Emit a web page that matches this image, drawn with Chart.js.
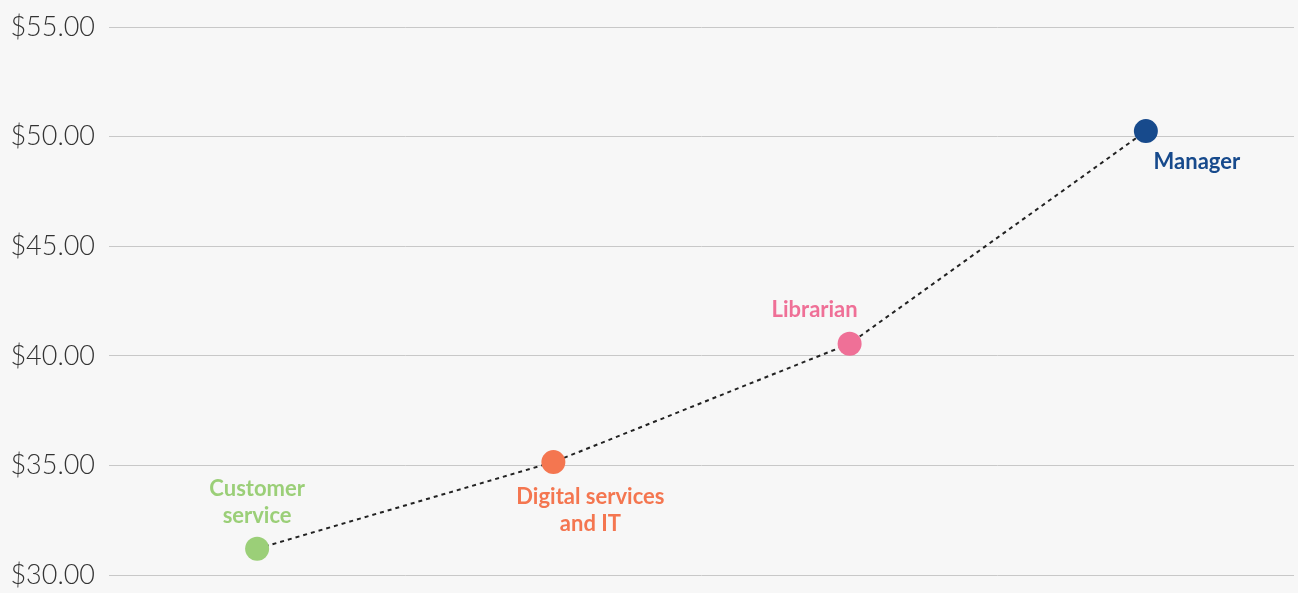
<!DOCTYPE html>
<html>
<head>
<meta charset="utf-8">
<script src="https://cdn.jsdelivr.net/npm/chart.js@4/dist/chart.umd.min.js"></script>
<style>
  html, body { margin: 0; padding: 0; background: #f7f7f7; }
  #wrap { width: 1298px; height: 593px; }
</style>
</head>
<body>
<div id="wrap"><canvas id="chart"></canvas></div>
<script>
// roles and average hourly pay
var roles = ["Customer service", "Digital services and IT", "Librarian", "Manager"];
var pay = [31.2, 35.15, 40.55, 50.25];
var roleColors = ["#9bcf78", "#f47650", "#ef7097", "#174a8c"];

// how each label sits against its point (text lines, dx, dy of first line)
var labelStyle = [
    { lines: ["Customer", "service"], dx: 0, dy: -60 },
    { lines: ["Digital services", "and IT"], dx: 37, dy: 35 },
    { lines: ["Librarian"], dx: -35, dy: -34 },
    { lines: ["Manager"], dx: 51, dy: 31 }
];

var pointLabels = {
    id: "pointLabels",
    afterDatasetsDraw: function(chart) {
        var ctx = chart.ctx;
        var meta = chart.getDatasetMeta(0);
        ctx.save();
        ctx.font = "bold 22px Lato, 'Open Sans', sans-serif";
        ctx.textAlign = "center";
        ctx.textBaseline = "middle";
        meta.data.forEach(function(pt, i) {
            var s = labelStyle[i];
            ctx.fillStyle = roleColors[i];
            s.lines.forEach(function(line, j) {
                ctx.fillText(line, pt.x + s.dx, pt.y + s.dy + j * 27);
            });
        });
        ctx.restore();
    }
};

window.onload = function() {
    var ctx = document.getElementById("chart").getContext("2d");
    new Chart(ctx, {
        type: "line",
        data: {
            labels: roles,
            datasets: [{
                data: pay,
                borderColor: "#222",
                borderWidth: 2,
                borderDash: [4, 4],
                pointRadius: 12,
                pointHoverRadius: 12,
                pointBackgroundColor: roleColors,
                pointBorderColor: roleColors,
                pointBorderWidth: 0,
                tension: 0
            }]
        },
        options: {
            responsive: true,
            maintainAspectRatio: false,
            animation: false,
            layout: { autoPadding: false, padding: { top: 27, bottom: 18, left: 0, right: 4 } },
            plugins: { legend: { display: false }, tooltip: { enabled: false } },
            scales: {
                x: {
                    type: "category",
                    offset: true,
                    display: false
                },
                y: {
                    min: 30,
                    max: 55,
                    afterFit: function(scale) {
                        scale.width = 109;
                        scale.paddingTop = 0;
                        scale.paddingBottom = 0;
                    },
                    border: { display: false },
                    grid: { color: "#c8c8c8", lineWidth: 1, drawTicks: false },
                    ticks: {
                        stepSize: 5,
                        padding: 14,
                        color: "#333",
                        font: { family: "Lato, 'Open Sans', sans-serif", size: 27, weight: "300" },
                        callback: function(v) { return "$" + v.toFixed(2); }
                    }
                }
            }
        },
        plugins: [pointLabels]
    });
};
</script>
</body>
</html>
